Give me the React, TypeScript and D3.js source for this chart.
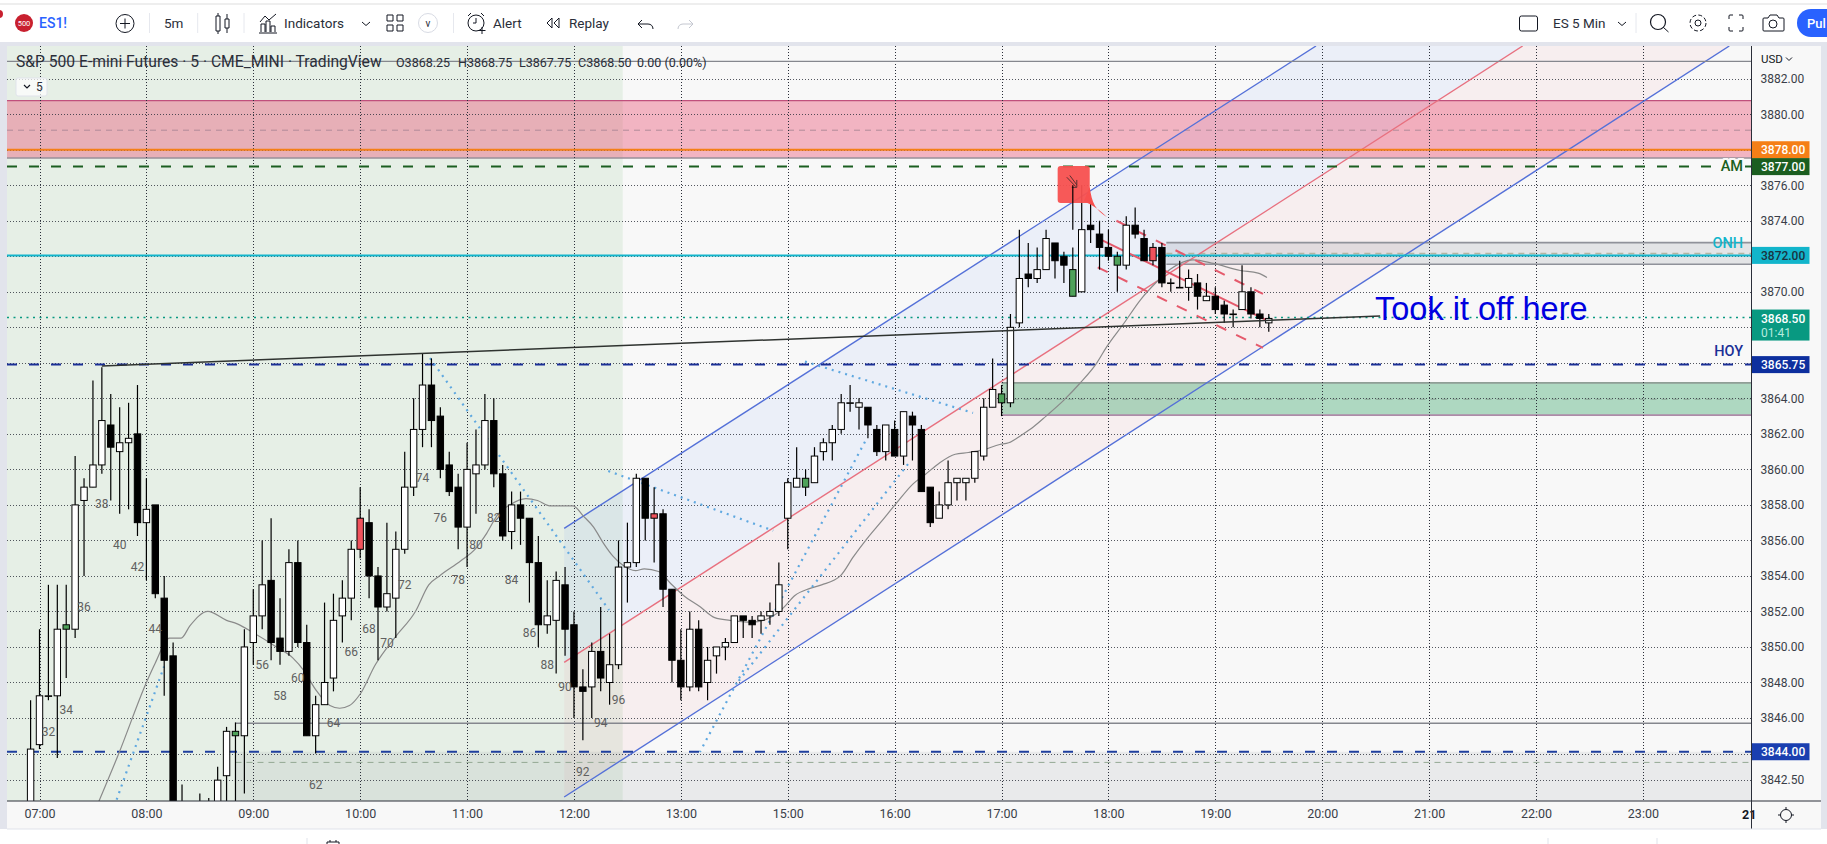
import { useEffect, useRef } from 'react';
import * as d3 from 'd3';

const W = 1827;
const H = 844;
const FONT = 'Roboto, "Liberation Sans", sans-serif';

// candles, first one is the bar before 07:00
const FIRST_BAR = -1;
const opens = [
  3840, 3844.5, 3847.25, 3847.25, 3851, 3851, 3858.25, 3859, 3860.25, 3862.5,
  3861, 3861.5, 3862, 3857, 3858, 3852.75, 3849.5, 3841, 3840, 3840,
  3840.5, 3840.5, 3842.75, 3845, 3845, 3850.25, 3851.75, 3853.75, 3850.5, 3849.75,
  3854.75, 3850.25, 3845, 3846.75, 3848.25, 3851.75, 3852.75, 3855.5, 3857, 3854,
  3852.25, 3852.75, 3855.5, 3859, 3862.25, 3864.75, 3863, 3860.25, 3859, 3856.75,
  3859.75, 3860.25, 3862.75, 3859.75, 3856.5, 3858, 3857.25, 3854.75, 3851.25, 3851.5,
  3853.5, 3851.25, 3847.75, 3847.75, 3849.75, 3848, 3849, 3854.5, 3854.75, 3859.5,
  3857.25, 3857.5, 3853.25, 3849.25, 3847.75, 3851, 3848, 3849.5, 3850, 3850.25,
  3851.75, 3851.5, 3851.5, 3851.75, 3852, 3857.25, 3859, 3859, 3859.25, 3861,
  3861.5, 3862.25, 3863.75, 3863.5, 3863.5, 3862.25, 3861, 3862.25, 3860.75, 3863,
  3862.25, 3859, 3857.25, 3858, 3859.25, 3859.25, 3859.5, 3860.75, 3863.5, 3863.75,
  3863.75, 3868.25, 3871, 3870.75, 3871.25, 3872.75, 3872, 3869.75, 3870, 3873.75,
  3873.25, 3872.5, 3871.5, 3871.5, 3873.75, 3873, 3871.75, 3872.5, 3870.5, 3870.25,
  3870.25, 3870.5, 3869.5, 3869.75, 3869.25, 3868.75, 3869, 3870, 3868.75, 3868.25,
];
const highs = [
  3847, 3851, 3853.5, 3853.5, 3853.5, 3860.75, 3859.5, 3865, 3865.75, 3864.25,
  3863.5, 3863.75, 3864.75, 3859.5, 3858, 3854, 3850.25, 3842.25, 3840.5, 3841.75,
  3841.5, 3843.25, 3845.5, 3845.75, 3851, 3853.25, 3856, 3857.25, 3852.75, 3855.5,
  3856, 3851.25, 3847.25, 3852.5, 3853, 3853.75, 3856, 3859, 3857.75, 3854.5,
  3857, 3856.5, 3861, 3864, 3866.5, 3866.25, 3863.5, 3861, 3859.75, 3861.5,
  3862.25, 3864.25, 3864, 3860.25, 3858.75, 3858.75, 3857.25, 3856.25, 3853.75, 3854.25,
  3854.5, 3852, 3848.75, 3850.25, 3852.25, 3850.75, 3856, 3857, 3859.75, 3859.5,
  3859, 3857.75, 3853.25, 3851, 3852, 3851.5, 3850, 3850, 3850.5, 3851.75,
  3851.75, 3851.75, 3852, 3852.5, 3854.75, 3859.5, 3861.25, 3860, 3861.25, 3861.75,
  3862.5, 3864.25, 3864.75, 3864, 3863.5, 3862.5, 3862.5, 3862.75, 3863.25, 3863.25,
  3862.5, 3859, 3858.75, 3860.5, 3859.5, 3859.5, 3861, 3864, 3866.25, 3864.75,
  3868.75, 3873.5, 3872.75, 3872.5, 3873.5, 3872.75, 3872.25, 3872.5, 3876, 3875,
  3874, 3873.5, 3872.25, 3874.25, 3874.75, 3873.5, 3872.75, 3872.75, 3870.75, 3871.75,
  3871.25, 3871, 3870.5, 3870.25, 3869.5, 3869, 3871.5, 3870.25, 3869, 3868.75,
];
const lows = [
  3839.5, 3844.25, 3847, 3843.75, 3848.25, 3850.5, 3854, 3859, 3859.75, 3858.25,
  3857.5, 3857.75, 3856.25, 3853.75, 3852.75, 3847.25, 3838, 3839, 3838, 3839,
  3839, 3840, 3840.5, 3841, 3841.75, 3849, 3851, 3849.25, 3849, 3849.5,
  3850, 3845, 3844, 3846.75, 3847.5, 3850.25, 3851.5, 3855, 3852.75, 3849.25,
  3852, 3850.5, 3855.25, 3858.5, 3861.25, 3861.25, 3859.5, 3858.5, 3855.5, 3854.5,
  3857.5, 3860, 3859, 3856, 3855.5, 3855.75, 3852.5, 3850, 3850.75, 3848.5,
  3849.5, 3846, 3844.75, 3846, 3847.5, 3846.75, 3848.75, 3852.5, 3854.5, 3856,
  3854.75, 3852.25, 3848, 3847, 3847.5, 3847.5, 3847, 3848.5, 3849.25, 3850.25,
  3850.5, 3850.5, 3850.75, 3851.25, 3851.75, 3855.5, 3859, 3858.5, 3859.25, 3860.5,
  3860.5, 3862, 3863.25, 3862.25, 3861.75, 3860.75, 3860.5, 3860.75, 3860.25, 3860.5,
  3858.75, 3856.75, 3857.25, 3857.75, 3858.25, 3858.25, 3859.25, 3860.5, 3863.5, 3863,
  3863.5, 3868, 3870.25, 3870.5, 3871.25, 3870.75, 3870.5, 3869.75, 3870, 3872.75,
  3871.25, 3871.75, 3870, 3871.25, 3873, 3871.75, 3871.5, 3870.25, 3870, 3870.25,
  3869.5, 3869, 3869.5, 3868.75, 3868.25, 3868, 3869, 3868.5, 3868, 3867.75,
];
const closes = [
  3844.25, 3847.25, 3847.25, 3851, 3851.25, 3858, 3859, 3860.25, 3862.75, 3861.25,
  3861.5, 3861.75, 3857, 3857.75, 3853, 3849.25, 3840, 3840, 3839, 3840.5,
  3841, 3842.5, 3845.25, 3845.25, 3850, 3851.75, 3853.5, 3850.25, 3849.75, 3854.75,
  3850.25, 3845, 3846.75, 3848, 3851.5, 3852.75, 3855.5, 3857.25, 3854, 3852.25,
  3853, 3855.5, 3859, 3862.25, 3864.75, 3862.75, 3860, 3858.75, 3856.75, 3860,
  3860.25, 3862.75, 3859.75, 3856.25, 3858, 3857.25, 3854.75, 3851.25, 3851.75, 3853.75,
  3851, 3847.75, 3847.5, 3849.75, 3848.25, 3849, 3854.5, 3854.75, 3859.5, 3857.25,
  3857.5, 3853.25, 3849.25, 3847.75, 3851, 3847.75, 3849.25, 3850, 3850.25, 3851.75,
  3851.5, 3851.25, 3851.75, 3852, 3853.5, 3859.25, 3859.5, 3859.5, 3860.75, 3861.5,
  3862.25, 3863.75, 3863.75, 3863.75, 3862.5, 3861, 3862.5, 3860.75, 3863.25, 3862.5,
  3858.75, 3857, 3858, 3859.25, 3859.5, 3859.5, 3861, 3863.5, 3864.5, 3864.25,
  3868, 3870.75, 3870.75, 3871.25, 3873, 3871.75, 3871.5, 3871.25, 3873.5, 3873.5,
  3872.5, 3872, 3872, 3873.75, 3873.25, 3871.75, 3872.5, 3870.5, 3870.5, 3870.25,
  3870.75, 3869.75, 3869.75, 3869, 3868.75, 3868.75, 3870, 3868.75, 3868.5, 3868.5,
];
const greenBars = [3, 22, 86, 108, 116, 121];
const redBars = [36, 69, 125];

// bar counts printed under the candles (count n sits on bar n - 31)
const countLabels = [32, 34, 36, 38, 40, 42, 44, 56, 58, 60, 62, 64, 66, 68, 70, 72, 74, 76, 78, 80, 82, 84, 86, 88, 90, 92, 94, 96];
const countPrices = [3845.23, 3846.45, 3852.27, 3858.05, 3855.74, 3854.52, 3851, 3849, 3847.26, 3848.27, 3842.23, 3845.74, 3849.74, 3851.03, 3850.24, 3853.5, 3859.52, 3857.28, 3853.77, 3855.74, 3857.28, 3853.77, 3850.77, 3849, 3847.77, 3842.98, 3845.74, 3847];

// moving average
const maBars = [6.66, 8.9, 12, 13, 14.6, 15.9, 16.9, 18.9, 21, 22.2, 24, 26.6, 28.4, 29.7, 31, 32.6, 33.7, 34.8, 36, 37.7, 40, 42.2, 43.7, 44.9, 47.3, 48.8, 50.2, 51.5, 52.8, 54.6, 55.9, 57.3, 59.9, 61, 62.2, 63.3, 64.4, 65.5, 66.9, 67.9, 69.5, 70.8, 72.3, 74.2, 75.8, 77.5, 80, 82.2, 83.5, 84.8, 86.5, 87.8, 89.9, 91.4, 92.9, 94.4, 96.2, 98.1, 99.4, 101, 102.8, 104.3, 105.9, 107.8, 108.8, 110.3, 111.6, 113, 115, 116.8, 118.7, 119.8, 121.7, 123.6, 125.4, 126.9, 129.5, 131.8, 134.8, 136.8, 137.8];
const maValues = [3841.3, 3844, 3848, 3849.1, 3850.5, 3850.5, 3851.2, 3852, 3851.5, 3851.3, 3850.8, 3850, 3849.4, 3848.65, 3847.6, 3846.7, 3846.55, 3846.7, 3847.35, 3849, 3850.6, 3852, 3853.5, 3854, 3854.85, 3855.45, 3856.4, 3857.5, 3858, 3858.35, 3858.25, 3857.95, 3857.95, 3857.4, 3856.75, 3855.85, 3855.1, 3854.6, 3854.3, 3854.4, 3854.25, 3853.6, 3852.9, 3852.25, 3851.65, 3851.5, 3851.4, 3851.7, 3852.2, 3852.9, 3853.3, 3853.5, 3854, 3855.1, 3856.1, 3857, 3858.1, 3859.2, 3859.7, 3860.35, 3860.85, 3860.95, 3861.1, 3861.4, 3861.5, 3861.95, 3862.4, 3863, 3863.9, 3864.85, 3866, 3866.9, 3868.2, 3869.55, 3870.55, 3871.25, 3871.8, 3871.6, 3871.2, 3871.05, 3870.8];

// axes
const priceTicks = [3882, 3880, 3876, 3874, 3870, 3864, 3862, 3860, 3858, 3856, 3854, 3852, 3850, 3848, 3846, 3842.5];
const gridPrices = [3882, 3880, 3878, 3876, 3874, 3872, 3870, 3868, 3866, 3864, 3862, 3860, 3858, 3856, 3854, 3852, 3850, 3848, 3846, 3844, 3842.5];
const timeBars = [0, 12, 24, 36, 48, 60, 72, 84, 96, 108, 120, 132, 144, 156, 168, 180];
const timeLabels = ['07:00', '08:00', '09:00', '10:00', '11:00', '12:00', '13:00', '15:00', '16:00', '17:00', '18:00', '19:00', '20:00', '21:00', '22:00', '23:00'];

// drawings, [bar, price]
const channelUpper = [[58.9, 3856.68], [143.3, 3883.84]];
const channelMid = [[58.9, 3849.13], [166.5, 3883.84]];
const channelLower = [[58.9, 3841.55], [189.7, 3883.84]];
const dottedLines = [
  [[8.66, 3841.4], [13.98, 3848.9]],
  [[43.84, 3866.27], [63.93, 3852.08]],
  [[63.85, 3859.91], [82.37, 3856.55]],
  [[85.93, 3866.07], [104.8, 3863.18]],
  [[92.67, 3861.56], [74.14, 3844.09]],
  [[97.5, 3860.3], [78.4, 3848.03]],
];
const trendLine = [[7, 3865.82], [150.5, 3868.64]];
const miniChannelMid = [[119.2, 3872.92], [137.76, 3868.41]];
const miniChannelDashed = [
  [[120.9, 3874], [137.35, 3869.88]],
  [[118.8, 3871.38], [137.35, 3866.84]],
];

// price tags on the axis
const tagPrices = [3878, 3877, 3872, 3865.75, 3844];
const tagCentres = [3878, 3877.05, 3872.05, 3865.9, 3844.1];
const tagColors = ['#f57f17', '#1b5e20', '#12b5cb', '#0d2f9e', '#1a3fb0'];
const tagText = ['#fff', '#fff', '#1a3340', '#fff', '#fff'];

// legend values next to the title
const legendText = ['O3868.25', 'H3868.75', 'L3867.75', 'C3868.50', '0.00 (0.00%)'];
const legendX = [396, 458, 519, 578, 637];

export default function App() {
  const ref = useRef<SVGSVGElement>(null);

  useEffect(() => {
    if (!ref.current) return;
    const svg = d3.select(ref.current);
    svg.selectAll('*').remove();

    const left = 7;
    const right = 1751.5;
    const top = 46;
    const bottom = 801;

    const x = d3.scaleLinear().domain([0, 180]).range([39.5, 1642.9]);
    const y = d3.scaleLinear().domain([3882, 3846]).range([78.7, 718]);
    const toPt = (p: number[]) => [x(p[0]), y(p[1])] as [number, number];
    const lineGen = d3.line<number[]>().x((d) => x(d[0])).y((d) => y(d[1]));

    svg.append('rect').attr('width', W).attr('height', H).attr('fill', '#fff');
    svg.append('rect').attr('x', 0).attr('y', 42).attr('width', W).attr('height', 787).attr('fill', '#e2e4ec');
    svg.append('rect').attr('x', left).attr('y', top).attr('width', 1821 - left).attr('height', 829 - top).attr('fill', '#f8f8f8');

    svg.append('clipPath').attr('id', 'plot')
      .append('rect').attr('x', left).attr('y', top).attr('width', right - left).attr('height', bottom - top);

    const g = svg.append('g').attr('clip-path', 'url(#plot)');

    // session background
    g.append('rect')
      .attr('x', left).attr('y', top)
      .attr('width', x(65.47) - left).attr('height', bottom - top)
      .attr('fill', '#e6efe6');

    // regression channel fills
    const area = (a: number[][], b: number[][]) => `M${toPt(a[0])}L${toPt(a[1])}L${toPt(b[1])}L${toPt(b[0])}Z`;
    g.append('path').attr('d', area(channelUpper, channelMid)).attr('fill', '#2962ff').attr('fill-opacity', 0.06);
    g.append('path').attr('d', area(channelMid, channelLower)).attr('fill', '#f23645').attr('fill-opacity', 0.05);

    // rectangle zones
    const zone = (x0: number, p0: number, p1: number, fill: string, op: number) =>
      g.append('rect')
        .attr('x', x0).attr('y', y(p0))
        .attr('width', right - x0).attr('height', y(p1) - y(p0))
        .attr('fill', fill).attr('fill-opacity', op);
    const hline = (x0: number, p: number, color: string, w: number, dash?: string) =>
      g.append('line')
        .attr('x1', x0).attr('x2', right)
        .attr('y1', y(p)).attr('y2', y(p))
        .attr('stroke', color).attr('stroke-width', w)
        .attr('stroke-dasharray', dash ?? null);

    zone(left, 3880.77, 3877.53, '#e83e64', 0.36);
    hline(left, 3880.77, '#c0507c', 1.2);
    hline(left, 3877.53, '#98909a', 1.5);
    hline(left, 3879.1, '#b08a98', 1, '6 5');

    const onhX = x(126.5);
    zone(onhX, 3872.77, 3871.55, '#787b86', 0.16);
    hline(onhX, 3872.77, '#90929a', 1.8);
    hline(onhX, 3871.55, '#90929a', 1.5);
    hline(onhX, 3872.15, '#b5b5a0', 1.5, '6 5');

    const demandX = x(108);
    zone(demandX, 3864.87, 3863.05, '#3fa86e', 0.4);
    hline(demandX, 3864.87, '#8f9e96', 1.8);
    hline(demandX, 3863.05, '#ae8ba8', 1.8);
    hline(demandX, 3863.95, '#8aa596', 1, '6 5');

    const lowX = x(22);
    zone(lowX, 3844.1, 3841, '#787b86', 0.11);
    hline(lowX, 3845.7, '#85878e', 1.5);
    hline(lowX, 3843.5, '#93a893', 1, '6 5');

    // grid
    g.append('g').selectAll('line').data(gridPrices).join('line')
      .attr('x1', left).attr('x2', right)
      .attr('y1', (d) => Math.round(y(d)) + 0.5).attr('y2', (d) => Math.round(y(d)) + 0.5)
      .attr('stroke', '#2a2e39').attr('stroke-opacity', 0.8).attr('stroke-dasharray', '1 2');
    g.append('g').selectAll('line').data(timeBars).join('line')
      .attr('x1', (d) => Math.round(x(d)) + 0.5).attr('x2', (d) => Math.round(x(d)) + 0.5)
      .attr('y1', top).attr('y2', bottom)
      .attr('stroke', '#2a2e39').attr('stroke-dasharray', '1 2');

    // channel lines
    [channelUpper, channelLower].forEach((l) => {
      g.append('path').attr('d', lineGen(l)).attr('stroke', '#5470d8').attr('stroke-width', 1.4).attr('fill', 'none');
    });
    g.append('path').attr('d', lineGen(channelMid)).attr('stroke', '#e8707f').attr('stroke-width', 1.4).attr('fill', 'none');

    // levels
    hline(left, 3882.97, '#85878e', 1.2);
    hline(left, 3878, '#f57f17', 2);
    hline(left, 3877.05, '#1b5e20', 2, '10 12');
    hline(left, 3872.05, '#12b5cb', 2);
    hline(left, 3868.55, '#089981', 1.6, '2 4.5');
    hline(left, 3865.9, '#1a2f96', 2, '10 12');
    hline(left, 3844.1, '#1f3f9e', 2, '10 12');

    // moving average
    g.append('path')
      .attr('d', d3.line<number>().x((_, i) => x(maBars[i])).y((d) => y(d)).curve(d3.curveMonotoneX)(maValues))
      .attr('stroke', '#8a8a8a').attr('stroke-width', 1.2).attr('fill', 'none');

    // dotted drawings
    dottedLines.forEach((l) => {
      g.append('path').attr('d', lineGen(l))
        .attr('stroke', '#5fa8e0').attr('stroke-width', 2.2)
        .attr('stroke-dasharray', '2 5').attr('fill', 'none');
    });

    // small red channel
    g.append('path').attr('d', lineGen(miniChannelMid)).attr('stroke', '#e55a6c').attr('stroke-width', 2).attr('fill', 'none');
    miniChannelDashed.forEach((l) => {
      g.append('path').attr('d', lineGen(l))
        .attr('stroke', '#e55a6c').attr('stroke-width', 2)
        .attr('stroke-dasharray', '11 11').attr('fill', 'none');
    });

    // candles
    const bars = d3.range(opens.length).map((i) => ({
      bar: i + FIRST_BAR,
      o: opens[i], h: highs[i], l: lows[i], c: closes[i],
    }));
    const bodyW = 6.4;
    const candle = g.append('g').selectAll('g').data(bars).join('g');
    candle.append('line')
      .attr('x1', (d) => x(d.bar)).attr('x2', (d) => x(d.bar))
      .attr('y1', (d) => y(d.h)).attr('y2', (d) => y(d.l))
      .attr('stroke', '#000').attr('stroke-width', 1.2);
    candle.append('rect')
      .attr('x', (d) => x(d.bar) - bodyW / 2)
      .attr('y', (d) => y(Math.max(d.o, d.c)))
      .attr('width', bodyW)
      .attr('height', (d) => Math.max(0.6, y(Math.min(d.o, d.c)) - y(Math.max(d.o, d.c))))
      .attr('fill', (d) => {
        if (greenBars.includes(d.bar)) return '#4fa25a';
        if (redBars.includes(d.bar)) return '#f0525c';
        return d.c >= d.o ? '#fff' : '#000';
      })
      .attr('stroke', '#000').attr('stroke-width', 1);

    // trend line over the bars
    g.append('path').attr('d', lineGen(trendLine)).attr('stroke', '#2f3330').attr('stroke-width', 1.5).attr('fill', 'none');

    // bar counts
    g.append('g').selectAll('text').data(countLabels).join('text')
      .attr('x', (d) => x(d - 31))
      .attr('y', (_, i) => y(countPrices[i]))
      .attr('dy', '0.35em')
      .attr('text-anchor', 'middle')
      .attr('font-family', FONT).attr('font-size', 12)
      .attr('fill', '#606060')
      .text((d) => d);

    // sell callout
    const cx0 = x(114.3);
    const cx1 = x(117.9);
    g.append('path')
      .attr('d', `M${cx1},${y(3875.9)}C${cx1 + 2},${y(3875)} ${cx1 + 6},${y(3874.6)} ${x(119.85)},${y(3874.2)}C${cx1 + 5},${y(3874.9)} ${cx1 - 3},${y(3875)} ${cx1 - 6},${y(3875.1)}Z`)
      .attr('fill', '#f7504f');
    g.append('rect')
      .attr('x', cx0).attr('y', y(3877.08))
      .attr('width', cx1 - cx0).attr('height', y(3875) - y(3877.08))
      .attr('rx', 3).attr('fill', '#f7504f').attr('fill-opacity', 0.95);
    g.append('path')
      .attr('d', `M${x(116) - 6},${y(3876.45)}L${x(116) + 3},${y(3875.92)}M${x(116) - 3},${y(3876.55)}L${x(116) + 4},${y(3876.02)}M${x(116) + 4},${y(3876.3)}L${x(116) + 4},${y(3875.88)}L${x(116) - 1},${y(3875.88)}`)
      .attr('stroke', '#5a3030').attr('stroke-width', 1).attr('fill', 'none');
    // the 17:35 wick runs through the callout
    g.append('line')
      .attr('x1', x(116)).attr('x2', x(116))
      .attr('y1', y(3876)).attr('y2', y(3873.5))
      .attr('stroke', '#000').attr('stroke-width', 1.2);

    // text notes, the halo cuts the level line behind them
    const note = (t: string, px: number, py: number, color: string, halo: number) =>
      g.append('text')
        .attr('x', px).attr('y', py).attr('dy', '0.35em')
        .attr('text-anchor', 'end')
        .attr('font-family', FONT).attr('font-size', 14.5).attr('font-weight', 500)
        .attr('stroke', '#f8f8f8').attr('stroke-width', halo).attr('paint-order', 'stroke')
        .attr('fill', color).text(t);
    note('AM', 1743, y(3877.1), '#1b5e20', 4);
    note('ONH', 1743, y(3872.75), '#12b5cb', 0);
    note('HOY', 1743, y(3866.65), '#1a2f96', 4);

    g.append('text')
      .attr('x', 1375).attr('y', y(3868.95)).attr('dy', '0.28em')
      .attr('font-family', '"Liberation Sans", Arial, sans-serif').attr('font-size', 32.5)
      .attr('fill', '#0000e0')
      .text('Took it off here');

    // price axis
    const yAxis = svg.append('g')
      .attr('transform', `translate(${right + 5},0)`)
      .call(d3.axisRight(y).tickValues(priceTicks).tickFormat(d3.format('.2f') as any).tickSize(0).tickPadding(4));
    yAxis.select('.domain').remove();
    yAxis.selectAll('text').attr('font-family', FONT).attr('font-size', 12).attr('fill', '#3a3e48');

    svg.append('text').attr('x', 1761).attr('y', 59).attr('dy', '0.35em')
      .attr('font-family', FONT).attr('font-size', 11.5).attr('fill', '#131722').text('USD');
    svg.append('path').attr('d', 'M1786,57.5l3,3l3,-3').attr('stroke', '#131722').attr('fill', 'none');

    // tags
    const tags = svg.append('g').selectAll('g').data(tagPrices).join('g');
    tags.append('rect')
      .attr('x', right).attr('y', (_, i) => y(tagCentres[i]) - 8.5)
      .attr('width', 58).attr('height', 17)
      .attr('fill', (_, i) => tagColors[i]);
    tags.append('text')
      .attr('x', 1761).attr('y', (_, i) => y(tagCentres[i])).attr('dy', '0.35em')
      .attr('font-family', FONT).attr('font-size', 12).attr('font-weight', 500)
      .attr('fill', (_, i) => tagText[i])
      .text((d) => d3.format('.2f')(d));
    const lastY = y(3868.55);
    svg.append('rect').attr('x', right).attr('y', lastY - 8).attr('width', 58).attr('height', 31).attr('fill', '#089981');
    svg.append('text').attr('x', 1761).attr('y', lastY + 1).attr('dy', '0.35em')
      .attr('font-family', FONT).attr('font-size', 12).attr('font-weight', 500).attr('fill', '#fff')
      .text(d3.format('.2f')(closes[closes.length - 1]));
    svg.append('text').attr('x', 1761).attr('y', lastY + 15).attr('dy', '0.35em')
      .attr('font-family', FONT).attr('font-size', 12).attr('fill', '#b5ebdf').text('01:41');

    // time axis
    const xAxis = svg.append('g')
      .attr('transform', `translate(0,${bottom + 8})`)
      .call(d3.axisBottom(x).tickValues(timeBars).tickFormat(((_: any, i: number) => timeLabels[i]) as any).tickSize(0).tickPadding(0));
    xAxis.select('.domain').remove();
    xAxis.selectAll('text').attr('font-family', FONT).attr('font-size', 12.5).attr('fill', '#3a3e48');
    svg.append('text').attr('x', 1742).attr('y', 815).attr('dy', '0.35em')
      .attr('font-family', FONT).attr('font-size', 12.5).attr('font-weight', 700).attr('fill', '#131722').text('21');

    // frame lines
    svg.append('line').attr('x1', left).attr('x2', 1821).attr('y1', bottom).attr('y2', bottom).attr('stroke', '#2a2e39');
    svg.append('line').attr('x1', right).attr('x2', right).attr('y1', top).attr('y2', 829).attr('stroke', '#2a2e39');
    svg.append('line').attr('x1', left).attr('x2', 1821).attr('y1', 829).attr('y2', 829).attr('stroke', '#e0e3eb');

    // legend
    svg.append('rect').attr('x', 16).attr('y', 78).attr('width', 31).attr('height', 18).attr('rx', 2)
      .attr('fill', '#fff').attr('fill-opacity', 0.7).attr('stroke', '#e0e3eb');
    svg.append('path').attr('d', 'M24,85l3,3l3,-3').attr('stroke', '#131722').attr('stroke-width', 1.2).attr('fill', 'none');
    const legend = svg.append('g').attr('font-family', FONT).attr('fill', '#2a2e39');
    legend.append('text').attr('x', 16).attr('y', 62).attr('dy', '0.35em').attr('font-size', 15.65)
      .text('S&P 500 E-mini Futures · 5 · CME_MINI · TradingView');
    legend.selectAll('text.ohlc').data(legendText).join('text')
      .attr('class', 'ohlc')
      .attr('x', (_, i) => legendX[i]).attr('y', 63).attr('dy', '0.35em').attr('font-size', 12.5)
      .text((d) => d);
    legend.append('text').attr('x', 36).attr('y', 87).attr('dy', '0.35em').attr('font-size', 12).text('5');

    // top toolbar
    const bar = svg.append('g').attr('font-family', FONT).attr('font-size', 13.5).attr('fill', '#2a2e39');
    const icon = (d: string) => bar.append('path').attr('d', d).attr('stroke', '#131722').attr('stroke-width', 1).attr('fill', 'none');
    svg.append('line').attr('x1', 0).attr('x2', W).attr('y1', 4).attr('y2', 4).attr('stroke', '#ddd');
    svg.append('circle').attr('cx', -1).attr('cy', 14).attr('r', 4).attr('fill', '#c8202f');
    bar.append('circle').attr('cx', 24).attr('cy', 23).attr('r', 9).attr('fill', '#c8202f');
    bar.append('text').attr('x', 24).attr('y', 23).attr('dy', '0.35em').attr('text-anchor', 'middle').attr('font-size', 7.5).attr('fill', '#fff').text('500');
    bar.append('text').attr('x', 39).attr('y', 23).attr('dy', '0.35em').attr('font-size', 14).attr('font-weight', 500).attr('fill', '#2962ff').text('ES1!');
    bar.append('circle').attr('cx', 125).attr('cy', 23.5).attr('r', 9).attr('fill', 'none').attr('stroke', '#131722');
    icon('M120,23.5h10M125,18.5v10');
    bar.append('text').attr('x', 164).attr('y', 23).attr('dy', '0.35em').text('5m');
    icon('M216,16h4v15h-4zM218,13v3M218,31v3M225,19h4v9h-4zM227,14v5M227,28v5');
    icon('M261,32v-8h4v8M266,32v-11h4v11M271,32v-6h4v6M259,33h18M260,22l5,-6l4,4l7,-6');
    bar.append('text').attr('x', 284).attr('y', 23).attr('dy', '0.35em').text('Indicators');
    icon('M362,22l4,3.5l4,-3.5');
    icon('M387,15h6v6h-6zM397,15h6v6h-6zM387,25h6v6h-6zM397,25h6v6h-6z');
    bar.append('circle').attr('cx', 428).attr('cy', 23).attr('r', 9.5).attr('fill', 'none').attr('stroke', '#d8dbe4');
    bar.append('text').attr('x', 428).attr('y', 23).attr('dy', '0.35em').attr('text-anchor', 'middle').attr('font-size', 10).text('v');
    bar.append('circle').attr('cx', 476).attr('cy', 23).attr('r', 8).attr('fill', 'none').attr('stroke', '#131722');
    icon('M476,18v5h-3M468,16l3,-3M484,16l-3,-3M482,27v7M478.5,30.5h7');
    bar.append('text').attr('x', 493).attr('y', 23).attr('dy', '0.35em').text('Alert');
    icon('M552,18l-5,5l5,5zM559,18l-5,5l5,5z');
    bar.append('text').attr('x', 569).attr('y', 23).attr('dy', '0.35em').text('Replay');
    icon('M642,20l-4,4l4,4M638,24h10c3,0 5,2 5,5');
    bar.append('path').attr('d', 'M689,20l4,4l-4,4M693,24h-10c-3,0 -5,2 -5,5').attr('stroke', '#c4c7d0').attr('fill', 'none');
    [149.5, 197.7, 244, 453.5, 1636].forEach((px) => {
      svg.append('line').attr('x1', px).attr('x2', px).attr('y1', 13).attr('y2', 33).attr('stroke', '#e6e8ee');
    });
    bar.append('rect').attr('x', 1519.5).attr('y', 16).attr('width', 18).attr('height', 15).attr('rx', 2).attr('fill', 'none').attr('stroke', '#131722');
    bar.append('text').attr('x', 1553).attr('y', 23).attr('dy', '0.35em').text('ES 5 Min');
    icon('M1618,22l4,3.5l4,-3.5');
    bar.append('circle').attr('cx', 1658).attr('cy', 22).attr('r', 7.5).attr('fill', 'none').attr('stroke', '#131722').attr('stroke-width', 1.2);
    icon('M1663.5,27.5l5,4.5');
    bar.append('circle').attr('cx', 1698).attr('cy', 23).attr('r', 3).attr('fill', 'none').attr('stroke', '#131722');
    bar.append('circle').attr('cx', 1698).attr('cy', 23).attr('r', 8).attr('fill', 'none').attr('stroke', '#131722').attr('stroke-dasharray', '4 2.3');
    icon('M1729,19v-3a1,1 0 0 1 1,-1h3M1739,15h3a1,1 0 0 1 1,1v3M1743,27v3a1,1 0 0 1 -1,1h-3M1733,31h-3a1,1 0 0 1 -1,-1v-3');
    icon('M1764,18h4l2,-3h7l2,3h4a1,1 0 0 1 1,1v11a1,1 0 0 1 -1,1h-19a1,1 0 0 1 -1,-1v-11a1,1 0 0 1 1,-1z');
    bar.append('circle').attr('cx', 1773).attr('cy', 24).attr('r', 4).attr('fill', 'none').attr('stroke', '#131722');
    svg.append('rect').attr('x', 1797).attr('y', 9).attr('width', 60).attr('height', 28).attr('rx', 14).attr('fill', '#2962ff');
    svg.append('text').attr('x', 1807).attr('y', 23).attr('dy', '0.35em').attr('font-family', FONT).attr('font-size', 13).attr('font-weight', 500).attr('fill', '#fff').text('Pul');

    // settings sun at the axis corner
    svg.append('circle').attr('cx', 1786).attr('cy', 815).attr('r', 5.5).attr('fill', 'none').attr('stroke', '#131722');
    svg.append('path').attr('d', 'M1786,807v2.5M1786,820.5v2.5M1778,815h2.5M1791.5,815h2.5').attr('stroke', '#131722');

    // bottom strip
    [307, 1548, 1657].forEach((px) => {
      svg.append('line').attr('x1', px).attr('x2', px).attr('y1', 838).attr('y2', H).attr('stroke', '#e0e3eb');
    });
    svg.append('path').attr('d', 'M327,844v-2h12v2M330,840v2M336,840v2').attr('stroke', '#131722').attr('fill', 'none');
  }, []);

  return <svg ref={ref} width={W} height={H} style={{ position: 'absolute', left: 0, top: 0, display: 'block' }} />;
}
